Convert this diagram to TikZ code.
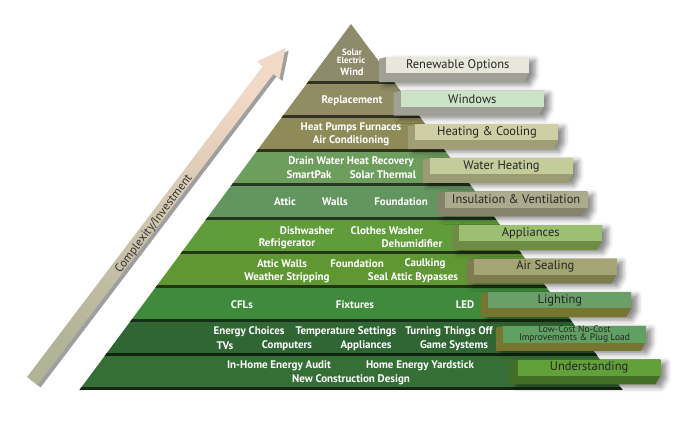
\documentclass[tikz,border=0pt]{standalone}
\usepackage{fontspec}
\setmainfont{PT Sans}
\usetikzlibrary{shadows.blur}

\definecolor{band0}{HTML}{8E8B6C}
\definecolor{band1}{HTML}{908C63}
\definecolor{band2}{HTML}{8E8B58}
\definecolor{band3}{HTML}{6E9E5E}
\definecolor{band4}{HTML}{63965F}
\definecolor{band5}{HTML}{609C3A}
\definecolor{band6}{HTML}{5F9732}
\definecolor{band7}{HTML}{3F8A3C}
\definecolor{band8}{HTML}{2F6633}
\definecolor{band9}{HTML}{356F36}
\definecolor{face0}{HTML}{E8E8DA}
\definecolor{face1}{HTML}{CDE3C6}
\definecolor{face2}{HTML}{CFCFA5}
\definecolor{face3}{HTML}{C5CC9C}
\definecolor{face4}{HTML}{ACAB8E}
\definecolor{face5}{HTML}{9CBF72}
\definecolor{face6}{HTML}{A4A474}
\definecolor{face7}{HTML}{6A9F6A}
\definecolor{face8}{HTML}{60A062}
\definecolor{face9}{HTML}{62A03A}
\definecolor{side0}{HTML}{A0A096}
\definecolor{side1}{HTML}{A0A096}
\definecolor{side2}{HTML}{A09E74}
\definecolor{side3}{HTML}{9C9C74}
\definecolor{side4}{HTML}{85846A}
\definecolor{side5}{HTML}{6F8C45}
\definecolor{side6}{HTML}{7C7C4C}
\definecolor{side7}{HTML}{767630}
\definecolor{side8}{HTML}{767630}
\definecolor{side9}{HTML}{426E26}
\definecolor{arrowlow}{HTML}{B2B498}
\definecolor{arrowmid}{HTML}{CDD2A0}
\definecolor{arrowtop}{HTML}{F2D8C6}

\begin{document}
\begin{tikzpicture}[x=1pt, y=-1pt, every node/.style={inner sep=0pt},
  item/.style={text=white, font=\fontsize{11}{12}\selectfont\bfseries},
  tag/.style={text=black!85, align=center,
    minimum width=143pt, minimum height=16pt, anchor=north west}]
\useasboundingbox (0,0) rectangle (684,421);

% arrow
\fill[gray!75, shift={(3.2,2.4)}] (27,377) -- (263,66) -- (257,61.5) -- (285.5,48) -- (279.4,78.5) -- (273.4,74) -- (37.4,385) -- cycle;
\shade[shading=axis, bottom color=arrowlow, middle color=arrowmid, top color=arrowtop, shading angle=-37]
  (27,377) -- (263,66) -- (257,61.5) -- (285.5,48) -- (279.4,78.5) -- (273.4,74) -- (37.4,385) -- cycle;
\node[rotate=52.8, text=black!80, font=\fontsize{12}{12}\selectfont] (axis) at (154,224) {Complexity/Investment};

% pyramid
\begin{scope}
\clip (351,24) -- (79.4,390) -- (622.6,390) -- cycle;
\foreach \i in {0,...,9} {
  \fill[band\i] (0,{50+34*\i}) rectangle (684,{84+34*\i});
  \fill[band\i!35!black] (0,{81+34*\i}) rectangle (684,{84+34*\i});
}
\fill[band0] (0,0) rectangle (684,81);
\end{scope}

% label boxes
\foreach \i/\s/\b/\t in {0/12.5/14/Renewable Options, 1/12.5/14/Windows, 2/12.5/14/Heating \& Cooling,
  3/12.5/14/Water Heating, 4/12.5/14/Insulation \& Ventilation, 5/12.5/14/Appliances,
  6/12.5/14/Air Sealing, 7/12.5/14/Lighting,
  8/9.5/8/{Low-Cost No-Cost\\Improvements \& Plug Load}, 9/12.5/14/Understanding} {
  \pgfmathsetmacro\L{386+14.6*\i}
  \pgfmathsetmacro\T{57+33.6*\i}
  \fill[side\i, blur shadow={shadow xshift=6pt, shadow yshift=-3pt, shadow blur radius=5pt, shadow opacity=45}]
    (\L,\T) -- ++(-7,2) -- ++(0,23) -- ++(145,0) -- ++(5,-9) -- ++(0,-16) -- cycle;
  \node[tag, fill=face\i, font=\fontsize{\s}{\b}\selectfont] (box\i) at (\L,\T) {\t};
}

% band texts
\node[item, font=\fontsize{9}{9}\selectfont\bfseries] (solar) at (352,52) {Solar};
\node[item, font=\fontsize{9}{9}\selectfont\bfseries] (elec) at (351,60.5) {Electric};
\node[item, font=\fontsize{10.5}{10}\selectfont\bfseries] (wind) at (352,72) {Wind};
\node[item] (repl) at (352,101) {Replacement};
\node[item] (pumps) at (351,128) {Heat Pumps Furnaces};
\node[item] (ac) at (351,141) {Air Conditioning};
\node[item] (drain) at (351,162) {Drain Water Heat Recovery};
\node[item] (smart) at (309,175) {SmartPak};
\node[item] (thermal) at (383,175) {Solar Thermal};
\node[item] (attic) at (285,202) {Attic};
\node[item] (walls) at (335,202) {Walls};
\node[item] (found) at (401,202) {Foundation};
\node[item] (dish) at (307,231) {Dishwasher};
\node[item] (clothes) at (387,231) {Clothes Washer};
\node[item] (fridge) at (287,244) {Refrigerator};
\node[item] (dehum) at (412,244) {Dehumidifier};
\node[item] (atticw) at (282,264) {Attic Walls};
\node[item] (found2) at (357,264) {Foundation};
\node[item] (caulk) at (425,264) {Caulking};
\node[item] (weather) at (287,278) {Weather Stripping};
\node[item] (seal) at (413,278) {Seal Attic Bypasses};
\node[item] (cfl) at (242,305) {CFLs};
\node[item] (fix) at (355,305) {Fixtures};
\node[item] (led) at (465,305) {LED};
\node[item] (choices) at (249,332) {Energy Choices};
\node[item] (temp) at (346,332) {Temperature Settings};
\node[item] (turn) at (449,332) {Turning Things Off};
\node[item] (tv) at (225,346) {TVs};
\node[item] (comp) at (287,346) {Computers};
\node[item] (appl) at (366,346) {Appliances};
\node[item] (game) at (454,346) {Game Systems};
\node[item] (audit) at (279,366) {In-Home Energy Audit};
\node[item] (yard) at (420,366) {Home Energy Yardstick};
\node[item] (design) at (351,380) {New Construction Design};
\end{tikzpicture}
\end{document}
